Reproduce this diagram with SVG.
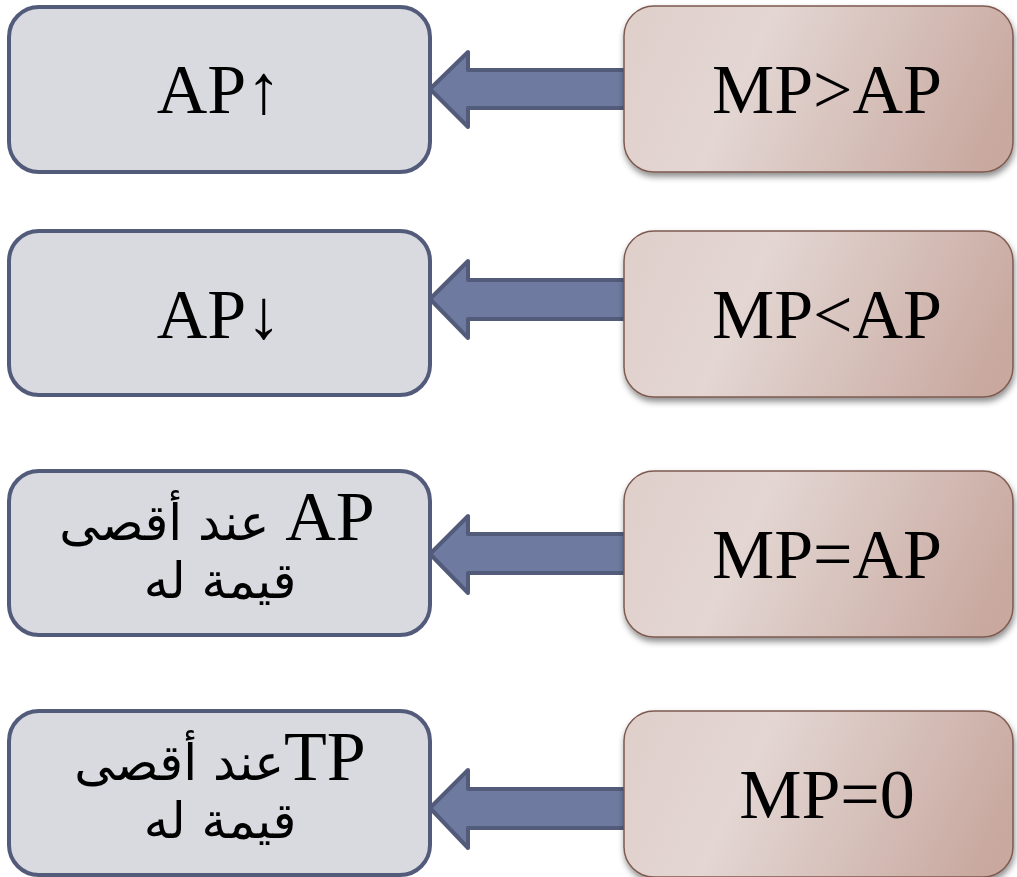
<svg xmlns="http://www.w3.org/2000/svg" width="1017" height="877" viewBox="0 0 1017 877">
  <defs>
    <linearGradient id="pink" x1="0" y1="0.4" x2="1" y2="0.6">
      <stop offset="0" stop-color="#e0d0cc"/>
      <stop offset="0.3" stop-color="#e3d6d3"/>
      <stop offset="1" stop-color="#c8a89f"/>
    </linearGradient>
    <filter id="shadow" x="-5%" y="-10%" width="115%" height="130%">
      <feDropShadow dx="1" dy="4" stdDeviation="3" flood-color="#000" flood-opacity="0.45"/>
    </filter>
  </defs>
  <style>
    .lbox { fill: #d9d9e0; stroke: #535b7b; stroke-width: 4; }
    .rbox { fill: url(#pink); stroke: #7e5a50; stroke-width: 1.5; filter: url(#shadow); }
    .arrow { fill: #6f7aa0; stroke: #535b7b; stroke-width: 4; stroke-linejoin: round; }
    .t { font-family: "Liberation Serif", "DejaVu Sans", serif; font-size: 70px; fill: #000; text-anchor: middle; }
    .ar { font-family: "DejaVu Sans", sans-serif; font-size: 50px; }
  </style>
  <rect width="1017" height="877" fill="#ffffff"/>

  <g id="connectors">
    <polygon class="arrow" points="430,89 468,52 468,70 625,70 625,108 468,108 468,127"/>
    <polygon class="arrow" points="430,299 468,261 468,280 625,280 625,319 468,319 468,338"/>
    <polygon class="arrow" points="430,554 468,516 468,534 625,534 625,573 468,573 468,593"/>
    <polygon class="arrow" points="430,808 468,770 468,789 625,789 625,828 468,828 468,848"/>
  </g>

  <g id="node-mp-gt-ap">
    <rect class="rbox" x="624" y="6" width="389" height="166" rx="30"/>
    <text class="t" x="827" y="113">MP&gt;AP</text>
  </g>
  <g id="node-ap-up">
    <rect class="lbox" x="9" y="7" width="421" height="165" rx="30"/>
    <text class="t" x="219" y="113">AP↑</text>
  </g>

  <g id="node-mp-lt-ap">
    <rect class="rbox" x="624" y="231" width="389" height="166" rx="30"/>
    <text class="t" x="827" y="338">MP&lt;AP</text>
  </g>
  <g id="node-ap-down">
    <rect class="lbox" x="9" y="231" width="421" height="164" rx="30"/>
    <text class="t" x="219" y="338">AP↓</text>
  </g>

  <g id="node-mp-eq-ap">
    <rect class="rbox" x="624" y="471" width="389" height="166" rx="30"/>
    <text class="t" x="827" y="578">MP=AP</text>
  </g>
  <g id="node-ap-max">
    <rect class="lbox" x="9" y="471" width="421" height="164" rx="30"/>
    <text class="t" x="217" y="540"><tspan class="ar">عند أقصى </tspan>AP</text>
    <text class="t ar" x="220" y="598">قيمة له</text>
  </g>

  <g id="node-mp-zero">
    <rect class="rbox" x="624" y="711" width="389" height="166" rx="30"/>
    <text class="t" x="827" y="818">MP=0</text>
  </g>
  <g id="node-tp-max">
    <rect class="lbox" x="9" y="711" width="421" height="164" rx="30"/>
    <text class="t" x="220" y="780"><tspan class="ar">عند أقصى</tspan>TP</text>
    <text class="t ar" x="220" y="838">قيمة له</text>
  </g>
</svg>
